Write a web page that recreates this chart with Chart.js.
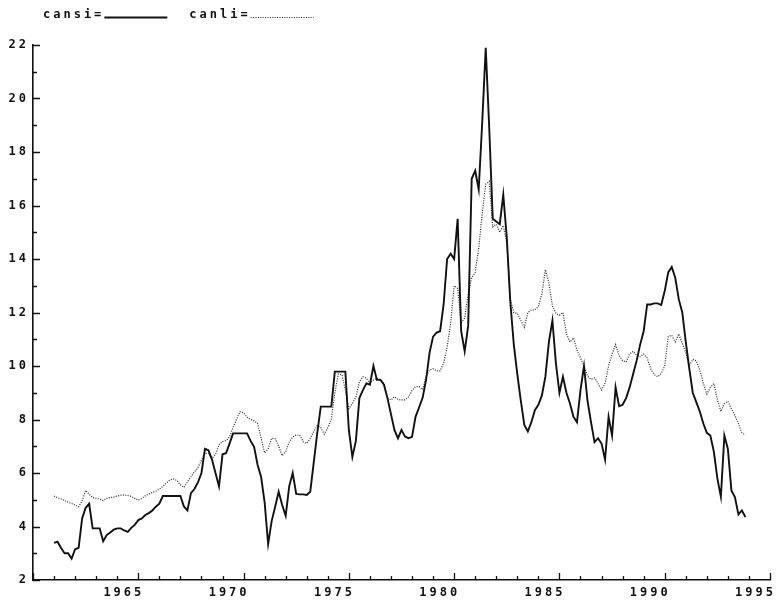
<!DOCTYPE html>
<html>
<head>
<meta charset="utf-8">
<script src="https://cdn.jsdelivr.net/npm/chart.js@4"></script>
<style>
  html, body { margin: 0; padding: 0; background: #fff; }
  #wrap { width: 778px; height: 603px; }
</style>
</head>
<body>
<div id="wrap"><canvas id="c" width="778" height="603"></canvas></div>
<script>
// Canadian interest rates, one observation every 2 months, 1961-1993
const startYear = 1961;
const periodsPerYear = 6;

// short rate
const cansi = [
  3.39, 3.43, 3.2, 3.0, 3.0, 2.8,        // 1961
  3.15, 3.2, 4.3, 4.7, 4.85, 3.93,       // 1962
  3.93, 3.93, 3.45, 3.68, 3.78, 3.88,    // 1963
  3.93, 3.93, 3.85, 3.8, 3.95, 4.06,     // 1964
  4.24, 4.3, 4.43, 4.5, 4.6, 4.74,       // 1965
  4.85, 5.14, 5.14, 5.14, 5.14, 5.14,    // 1966
  5.14, 4.75, 4.6, 5.25, 5.4, 5.65,      // 1967
  6.0, 6.9, 6.85, 6.5, 6.0, 5.5,         // 1968
  6.7, 6.74, 7.1, 7.48, 7.48, 7.48,      // 1969
  7.48, 7.48, 7.2, 6.98, 6.3, 5.85,      // 1970
  4.9, 3.35, 4.2, 4.74, 5.3, 4.8,        // 1971
  4.4, 5.5, 6.0, 5.22, 5.2, 5.2,         // 1972
  5.18, 5.3, 6.4, 7.5, 8.48, 8.48,       // 1973
  8.48, 8.48, 9.79, 9.79, 9.79, 9.79,    // 1974
  7.6, 6.6, 7.2, 8.8, 9.1, 9.35,         // 1975
  9.3, 10.0, 9.48, 9.48, 9.3, 8.8,       // 1976
  8.2, 7.6, 7.3, 7.61, 7.36, 7.3,        // 1977
  7.35, 8.1, 8.45, 8.8, 9.48, 10.5,      // 1978
  11.1, 11.25, 11.3, 12.3, 14.0, 14.2,   // 1979
  14.0, 15.5, 11.3, 10.55, 11.5, 17.0,   // 1980
  17.3, 16.6, 19.1, 21.9, 18.9, 15.5,    // 1981
  15.4, 15.3, 16.4, 14.8, 12.4, 10.8,    // 1982
  9.7, 8.7, 7.8, 7.55, 7.9, 8.35,        // 1983
  8.55, 8.9, 9.6, 10.9, 11.7, 10.1,      // 1984
  9.0, 9.6, 9.0, 8.6, 8.1, 7.9,          // 1985
  9.1, 10.0, 8.7, 7.9, 7.15, 7.3,        // 1986
  7.1, 6.5, 8.1, 7.4, 9.2, 8.5,          // 1987
  8.55, 8.8, 9.2, 9.7, 10.2, 10.8,       // 1988
  11.3, 12.3, 12.3, 12.34, 12.34, 12.28, // 1989
  12.8, 13.5, 13.7, 13.3, 12.5, 12.0,    // 1990
  10.9, 9.9, 9.0, 8.65, 8.3, 7.85,       // 1991
  7.5, 7.4, 6.8, 5.8, 5.11, 7.4,         // 1992
  6.9, 5.35, 5.1, 4.45, 4.6, 4.35        // 1993
];

// long rate
const canli = [
  5.14, 5.08, 5.03, 4.97, 4.91, 4.86,    // 1961
  4.8, 4.74, 4.95, 5.35, 5.2, 5.08,      // 1962
  5.05, 5.02, 4.97, 5.05, 5.08, 5.1,     // 1963
  5.14, 5.17, 5.18, 5.16, 5.12, 5.05,    // 1964
  4.99, 5.05, 5.15, 5.22, 5.27, 5.32,    // 1965
  5.4, 5.5, 5.62, 5.74, 5.78, 5.72,      // 1966
  5.56, 5.46, 5.66, 5.86, 6.04, 6.2,     // 1967
  6.48, 6.74, 6.72, 6.55, 6.7, 7.05,     // 1968
  7.18, 7.21, 7.35, 7.7, 8.0, 8.3,       // 1969
  8.25, 8.08, 8.0, 7.95, 7.85, 7.3,      // 1970
  6.75, 6.9, 7.3, 7.28, 7.0, 6.65,       // 1971
  6.8, 7.15, 7.35, 7.42, 7.42, 7.17,     // 1972
  7.11, 7.3, 7.55, 7.78, 7.7, 7.45,      // 1973
  7.7, 8.0, 9.0, 9.7, 9.68, 9.1,         // 1974
  8.4, 8.6, 8.83, 9.4, 9.6, 9.54,        // 1975
  9.35, 9.48, 9.54, 9.5, 9.35, 8.8,      // 1976
  8.73, 8.85, 8.75, 8.73, 8.73, 8.85,    // 1977
  9.08, 9.23, 9.23, 9.12, 9.6, 9.85,     // 1978
  9.9, 9.82, 9.82, 10.1, 10.7, 11.6,     // 1979
  13.0, 12.9, 11.6, 11.8, 12.7, 13.3,    // 1980
  13.5, 14.4, 15.7, 16.8, 16.9, 15.2,    // 1981
  15.3, 15.0, 15.25, 14.6, 12.5, 12.0,   // 1982
  11.97, 11.7, 11.45, 12.0, 12.1, 12.1,  // 1983
  12.22, 12.7, 13.6, 13.1, 12.25, 11.97, // 1984
  11.9, 12.0, 11.2, 10.9, 11.05, 10.6,   // 1985
  10.3, 10.0, 9.62, 9.5, 9.55, 9.35,     // 1986
  9.1, 9.35, 10.0, 10.45, 10.8, 10.4,    // 1987
  10.2, 10.15, 10.45, 10.55, 10.4, 10.35,// 1988
  10.45, 10.3, 9.9, 9.68, 9.6, 9.72,     // 1989
  10.0, 11.1, 11.15, 10.9, 11.2, 10.85,  // 1990
  10.5, 10.0, 10.25, 10.2, 9.85, 9.35,   // 1991
  8.95, 9.2, 9.35, 8.75, 8.3, 8.6,       // 1992
  8.68, 8.4, 8.15, 7.85, 7.5, 7.42       // 1993
];

const yearTicks = [1965, 1970, 1975, 1980, 1985, 1990, 1995];
const rateTicks = [2, 4, 6, 8, 10, 12, 14, 16, 18, 20, 22];
const seriesNames = ['cansi', 'canli'];

const dates = cansi.map((_, i) => startYear + i / periodsPerYear);

const ink = '#111';
const textFont = "'DejaVu Sans Mono', 'Liberation Mono', monospace";
const spacing = '3px';
const labelFont = { family: textFont, size: 12, weight: 'bold' };

// small inward tick marks: majors at labelled values, minors in between
const tickMarks = {
  id: 'tickMarks',
  afterDraw(chart) {
    const { ctx, scales: { x, y } } = chart;
    ctx.save();
    ctx.strokeStyle = ink;
    ctx.lineWidth = 1.3;
    ctx.beginPath();
    for (let yr = x.min; yr <= x.max; yr++) {
      const px = Math.round(x.getPixelForValue(yr)) + 0.5;
      const len = yr % 5 === 0 ? 7 : 4;
      ctx.moveTo(px, y.bottom);
      ctx.lineTo(px, y.bottom - len);
    }
    for (let v = y.min; v <= y.max; v++) {
      const py = Math.round(y.getPixelForValue(v)) + 0.5;
      const len = v % 2 === 0 ? 7 : 4;
      ctx.moveTo(x.left, py);
      ctx.lineTo(x.left + len, py);
    }
    ctx.stroke();
    ctx.restore();
  }
};

// wide letter spacing for all canvas text
const spacedText = {
  id: 'spacedText',
  beforeDraw(chart) { chart.ctx.letterSpacing = spacing; }
};

// "name=____" key above the plot
const keyLine = {
  id: 'keyLine',
  afterDraw(chart) {
    const ctx = chart.ctx;
    ctx.save();
    ctx.letterSpacing = spacing;
    ctx.font = 'bold 12px ' + textFont;
    ctx.fillStyle = ink;
    ctx.textBaseline = 'alphabetic';
    let cx = 43;
    const base = 18;
    chart.data.datasets.forEach((ds, i) => {
      const txt = ds.label + '=';
      ctx.fillText(txt, cx, base);
      cx += ctx.measureText(txt).width;
      ctx.beginPath();
      ctx.strokeStyle = ds.borderColor;
      ctx.lineWidth = i === 0 ? 1.8 : 1.2;
      ctx.setLineDash(ds.borderDash || []);
      ctx.moveTo(cx, base - 0.5);
      ctx.lineTo(cx + 63, base - 0.5);
      ctx.stroke();
      ctx.setLineDash([]);
      cx += 63 + 22;
    });
    ctx.restore();
  }
};

new Chart(document.getElementById('c'), {
  type: 'line',
  data: {
    datasets: [
      {
        label: seriesNames[0],
        data: dates.map((d, i) => ({ x: d, y: cansi[i] })),
        borderColor: '#111',
        borderWidth: 1.9,
        pointRadius: 0,
        tension: 0
      },
      {
        label: seriesNames[1],
        data: dates.map((d, i) => ({ x: d, y: canli[i] })),
        borderColor: '#2a2a2a',
        borderWidth: 1.2,
        borderDash: [1, 1.4],
        pointRadius: 0,
        tension: 0
      }
    ]
  },
  options: {
    responsive: false,
    animation: false,
    devicePixelRatio: 1,
    layout: { padding: { top: 45, right: 8, left: 0, bottom: 0 } },
    plugins: { legend: { display: false }, tooltip: { enabled: false } },
    scales: {
      x: {
        type: 'linear',
        min: 1960,
        max: 1995,
        afterBuildTicks: s => { s.ticks = yearTicks.map(v => ({ value: v })); },
        afterFit: s => { s.height = 23; },
        grid: { display: false, drawTicks: false },
        border: { display: true, color: ink, width: 1.6 },
        ticks: {
          align: 'end',
          labelOffset: 6,
          padding: 6,
          maxRotation: 0,
          autoSkip: false,
          color: ink,
          font: labelFont,
          callback: v => String(v)
        }
      },
      y: {
        type: 'linear',
        min: 2,
        max: 22,
        afterBuildTicks: s => { s.ticks = rateTicks.map(v => ({ value: v })); },
        afterFit: s => { s.width = 33; },
        grid: { display: false, drawTicks: false },
        border: { display: true, color: ink, width: 1.6 },
        ticks: {
          padding: 4,
          autoSkip: false,
          color: ink,
          font: labelFont,
          callback: v => String(v)
        }
      }
    }
  },
  plugins: [spacedText, tickMarks, keyLine]
});
</script>
</body>
</html>
